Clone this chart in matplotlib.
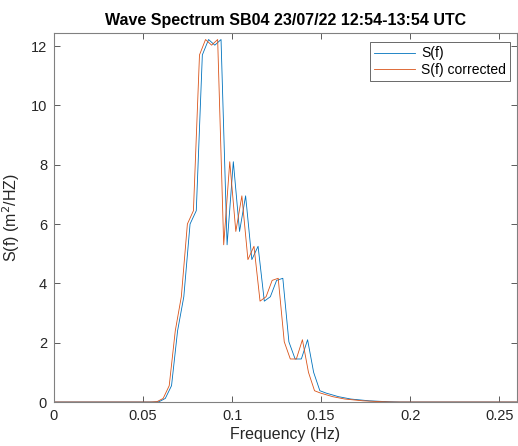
import numpy as np
import matplotlib
matplotlib.use("Agg")
import matplotlib.pyplot as plt

plt.rcParams["font.family"] = ["Liberation Sans", "DejaVu Sans"]

# frequency bins (Hz) of the raw spectrum
freq = [0.0, 0.0035, 0.0069, 0.0104, 0.0139, 0.0174, 0.0208, 0.0243, 0.0278, 0.0313,
        0.0347, 0.0382, 0.0417, 0.0451, 0.0486, 0.0521, 0.0556, 0.0590, 0.0625, 0.0660,
        0.0694, 0.0729, 0.0764, 0.0799, 0.0833, 0.0868, 0.0903, 0.0938, 0.0972, 0.1007,
        0.1042, 0.1076, 0.1111, 0.1146, 0.1181, 0.1215, 0.1250, 0.1285, 0.1319, 0.1354,
        0.1389, 0.1424, 0.1458, 0.1493, 0.1528, 0.1563, 0.1597, 0.1632, 0.1667, 0.1701,
        0.1736, 0.1771, 0.1806, 0.1840, 0.1875, 0.1910, 0.1944, 0.1979, 0.2014, 0.2049,
        0.2083, 0.2500, 0.2700]

# corrected frequency bins (Hz)
freq_corr = [0.0, 0.0034, 0.0068, 0.0102, 0.0136, 0.0170, 0.0204, 0.0238, 0.0272, 0.0306,
             0.0340, 0.0374, 0.0408, 0.0442, 0.0476, 0.0510, 0.0544, 0.0578, 0.0613, 0.0647,
             0.0681, 0.0715, 0.0749, 0.0783, 0.0817, 0.0851, 0.0885, 0.0919, 0.0953, 0.0987,
             0.1021, 0.1055, 0.1089, 0.1123, 0.1157, 0.1191, 0.1225, 0.1259, 0.1293, 0.1327,
             0.1361, 0.1395, 0.1429, 0.1463, 0.1497, 0.1531, 0.1565, 0.1599, 0.1633, 0.1667,
             0.1701, 0.1735, 0.1769, 0.1804, 0.1838, 0.1872, 0.1906, 0.1940, 0.1974, 0.2008,
             0.2042, 0.2450, 0.2700]

# spectral density (m^2/Hz)
S = [0, 0, 0, 0, 0, 0, 0, 0, 0, 0,
     0, 0, 0, 0, 0, 0, 0, 0.01, 0.12, 0.55,
     2.4, 3.55, 6.0, 6.45, 11.7, 12.22, 12.03, 12.22, 5.3, 8.1,
     5.75, 6.95, 4.8, 5.25, 3.4, 3.55, 4.1, 4.17, 2.03, 1.45,
     1.45, 2.1, 1.0, 0.38, 0.3, 0.24, 0.18, 0.14, 0.1, 0.08,
     0.06, 0.04, 0.03, 0.02, 0.01, 0.005, 0, 0, 0, 0,
     0, 0, 0]

S_corr = [0, 0, 0, 0, 0, 0, 0, 0, 0, 0,
          0, 0, 0, 0, 0, 0, 0, 0.01, 0.12, 0.55,
          2.4, 3.55, 6.0, 6.45, 11.7, 12.22, 12.03, 12.22, 5.3, 8.1,
          5.75, 6.95, 4.8, 5.25, 3.4, 3.55, 4.1, 4.17, 2.03, 1.45,
          1.45, 2.1, 1.0, 0.38, 0.3, 0.24, 0.18, 0.14, 0.1, 0.08,
          0.06, 0.04, 0.03, 0.02, 0.01, 0.005, 0, 0, 0, 0,
          0, 0, 0]

fig = plt.figure(figsize=(5.18, 4.46), dpi=100)
ax = fig.add_axes([54 / 518, 44 / 446, 463 / 518, 369 / 446])

ax.plot(freq, S, color="#0072BD", lw=0.6, label="S(f)")
ax.plot(freq_corr, S_corr, color="#D95319", lw=0.6, label="S(f) corrected")

ax.set_xlim(0, 0.26)
ax.set_ylim(0, 12.44)
ax.set_xticks([0, 0.05, 0.1, 0.15, 0.2, 0.25])
ax.set_xticklabels(["0", "0.05", "0.1", "0.15", "0.2", "0.25"])
ax.set_yticks(range(0, 13, 2))

for sp in ax.spines.values():
    sp.set_color("#808080")
    sp.set_linewidth(0.8)
ax.tick_params(direction="in", length=4, width=0.6, color="#404040",
               top=True, right=True, labelsize=10.5, labelcolor="#262626", pad=5)

ax.set_title("Wave Spectrum SB04 23/07/22 12:54-13:54 UTC",
             fontsize=11.5, fontweight="bold", pad=6)
ax.set_xlabel("Frequency (Hz)", fontsize=11.5, color="#262626", labelpad=3)
ax.set_ylabel("S(f) (m$^2$/HZ)", fontsize=11.5, color="#262626", labelpad=6)

leg = ax.legend(loc="upper right", bbox_to_anchor=(0.985, 0.975), fontsize=10,
                frameon=True, fancybox=False, edgecolor="#262626", handlelength=3.0,
                borderaxespad=0.0, borderpad=0.3, labelspacing=0.2, handletextpad=0.4)
leg.get_frame().set_linewidth(0.6)

fig.savefig("out.png", dpi=100)
